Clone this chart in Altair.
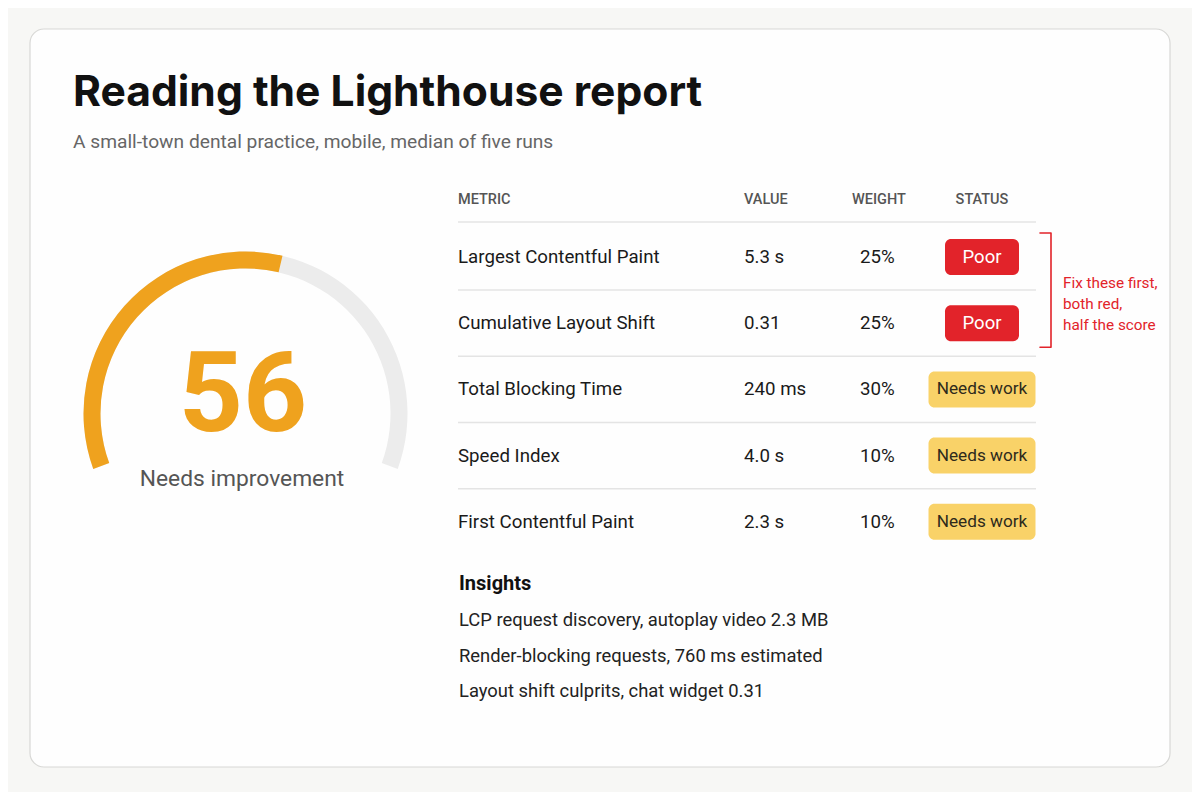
import altair as alt
import pandas as pd

# ---------------- data ----------------
title = "Reading the Lighthouse report"
subtitle = "A small-town dental practice, mobile, median of five runs"
score = 56
score_label = "Needs improvement"
headers = ["METRIC", "VALUE", "WEIGHT", "STATUS"]
metrics = ["Largest Contentful Paint", "Cumulative Layout Shift", "Total Blocking Time",
           "Speed Index", "First Contentful Paint"]
values = ["5.3 s", "0.31", "240 ms", "4.0 s", "2.3 s"]
weights = ["25%", "25%", "30%", "10%", "10%"]
statuses = ["Poor", "Poor", "Needs work", "Needs work", "Needs work"]
note_lines = ["Fix these first,", "both red,", "half the score"]
insights_title = "Insights"
insights = ["LCP request discovery, autoplay video 2.3 MB",
            "Render-blocking requests, 760 ms estimated",
            "Layout shift culprits, chat widget 0.31"]

# ---------------- layout / style ----------------
W, H = 1184, 784
FONT = "Roboto"
TITLE_FONT = "Inter"
BG = "#f7f7f5"
ORANGE = "#efa21e"
RED = "#e2232a"
YELLOW = "#f9d268"

status_style = {
    "Poor": {"fill": RED, "ink": "#ffffff", "w": 74, "size": 18.5},
    "Needs work": {"fill": YELLOW, "ink": "#2e2a1c", "w": 107, "size": 17.2},
}

card = dict(x0=30, x1=1170, y0=29, y1=767)
gauge = dict(cx=245.5, cy=413.5, r_out=162, r_in=145)
col_metric, col_value, col_weight, col_status = 458, 744, 860, 982
header_x = [458, 744, 852, 982]
header_align = ["left", "left", "left", "center"]
header_y = 200
row_y0, row_h = 257, 66.2
table_x1 = 1036
badge_h = 36
insight_title_y, insight_y0, insight_step = 584, 620, 35.5

X = lambda f="x": alt.X(f"{f}:Q", scale=alt.Scale(domain=[8, 8 + W]), axis=None)
Y = lambda f="y": alt.Y(f"{f}:Q", scale=alt.Scale(domain=[8, 8 + H], reverse=True), axis=None)

layers = []

# card
card_df = pd.DataFrame([card])
layers.append(
    alt.Chart(card_df).mark_rect(fill="#fefefe", stroke="#d8d8d6", strokeWidth=1.2, cornerRadius=14)
    .encode(x=X("x0"), x2="x1", y=Y("y0"), y2="y1")
)

# gauge arcs
theta_scale = alt.Scale(domain=[0, 100], range=[-1.9199, 1.9199])
arc_bg = pd.DataFrame([{"x": gauge["cx"], "y": gauge["cy"], "t0": 0, "t1": 100}])
arc_fg = pd.DataFrame([{"x": gauge["cx"], "y": gauge["cy"], "t0": 0, "t1": score}])
for df, col in [(arc_bg, "#ececec"), (arc_fg, ORANGE)]:
    layers.append(
        alt.Chart(df).mark_arc(radius=gauge["r_out"], radius2=gauge["r_in"], color=col)
        .encode(x=X(), y=Y(),
                theta=alt.Theta("t0:Q", scale=theta_scale, stack=None),
                theta2="t1:Q")
    )

score_df = pd.DataFrame([{"x": 243, "y": 397, "text": str(score)}])
layers.append(
    alt.Chart(score_df).mark_text(font=FONT, fontSize=112, fontWeight="bold", color=ORANGE,
                                  align="center", baseline="middle")
    .encode(x=X(), y=Y(), text="text:N")
)
label_df = pd.DataFrame([{"x": 242, "y": 479, "text": score_label}])
layers.append(
    alt.Chart(label_df).mark_text(font=FONT, fontSize=22.8, color="#555555",
                                  align="center", baseline="middle")
    .encode(x=X(), y=Y(), text="text:N")
)

# title / subtitle
layers.append(
    alt.Chart(pd.DataFrame([{"x": 73, "y": 106, "text": title}]))
    .mark_text(font=TITLE_FONT, fontSize=42.6, fontWeight="bold", color="#111111",
               align="left", baseline="alphabetic")
    .encode(x=X(), y=Y(), text="text:N")
)
layers.append(
    alt.Chart(pd.DataFrame([{"x": 73, "y": 148, "text": subtitle}]))
    .mark_text(font=FONT, fontSize=19.2, color="#666666", align="left", baseline="alphabetic")
    .encode(x=X(), y=Y(), text="text:N")
)

# table headers
hdr_df = pd.DataFrame({"x": header_x, "y": header_y, "text": headers, "align": header_align})
for al in ["left", "center"]:
    layers.append(
        alt.Chart(hdr_df[hdr_df["align"] == al]).mark_text(
            font=FONT, fontSize=14.5, fontWeight=500, color="#555555", align=al, baseline="middle")
        .encode(x=X(), y=Y(), text="text:N")
    )

# separator lines
line_rows = [{"x": col_metric, "x2": table_x1, "y": header_y + 22}]
for i in range(1, len(metrics)):
    line_rows.append({"x": col_metric, "x2": table_x1, "y": row_y0 + i * row_h - row_h / 2})
layers.append(
    alt.Chart(pd.DataFrame(line_rows)).mark_rule(color="#e4e4e4", strokeWidth=1.5)
    .encode(x=X(), x2="x2:Q", y=Y())
)

# rows
rows = pd.DataFrame({"metric": metrics, "value": values, "weight": weights, "status": statuses})
rows["y"] = [row_y0 + i * row_h for i in range(len(rows))]
rows["xm"] = col_metric
rows["xv"] = col_value
rows["xw"] = col_weight
rows["xs"] = col_status
rows["bx0"] = [col_status - status_style[s]["w"] / 2 for s in statuses]
rows["bx1"] = [col_status + status_style[s]["w"] / 2 for s in statuses]
rows["by0"] = rows["y"] - badge_h / 2
rows["by1"] = rows["y"] + badge_h / 2
rows["fill"] = [status_style[s]["fill"] for s in statuses]
rows["ink"] = [status_style[s]["ink"] for s in statuses]
rows["tsize"] = [status_style[s]["size"] for s in statuses]

for fld, xf in [("metric", "xm"), ("value", "xv"), ("weight", "xw")]:
    layers.append(
        alt.Chart(rows).mark_text(font=FONT, fontSize=18.7, color="#1a1a1a", align="left", baseline="middle")
        .encode(x=X(xf), y=Y(), text=f"{fld}:N")
    )

layers.append(
    alt.Chart(rows).mark_rect(cornerRadius=6)
    .encode(x=X("bx0"), x2="bx1:Q", y=Y("by0"), y2="by1:Q",
            color=alt.Color("fill:N", scale=None))
)
layers.append(
    alt.Chart(rows).mark_text(font=FONT, align="center", baseline="middle")
    .encode(x=X("xs"), y=Y(), text="status:N", color=alt.Color("ink:N", scale=None),
            size=alt.Size("tsize:Q", scale=None))
)

# bracket annotation for the two "Poor" rows
poor_idx = [i for i, s in enumerate(statuses) if s == "Poor"]
b_top = row_y0 + min(poor_idx) * row_h - 24
b_bot = row_y0 + max(poor_idx) * row_h + 24
b_x = 1051
bracket = pd.DataFrame([
    {"o": 0, "x": b_x - 11, "y": b_top},
    {"o": 1, "x": b_x, "y": b_top},
    {"o": 2, "x": b_x, "y": b_bot},
    {"o": 3, "x": b_x - 11, "y": b_bot},
])
layers.append(
    alt.Chart(bracket).mark_line(color=RED, strokeWidth=1.6, strokeJoin="round", strokeCap="round")
    .encode(x=X(), y=Y(), order="o:Q")
)
mid = (b_top + b_bot) / 2
note_df = pd.DataFrame({"text": note_lines,
                        "x": 1063,
                        "y": [mid - 7 + i * 20.7 for i in range(len(note_lines))]})
layers.append(
    alt.Chart(note_df).mark_text(font=FONT, fontSize=15.3, color=RED, align="left", baseline="middle")
    .encode(x=X(), y=Y(), text="text:N")
)

# insights
layers.append(
    alt.Chart(pd.DataFrame([{"x": 459, "y": insight_title_y, "text": insights_title}]))
    .mark_text(font=FONT, fontSize=20, fontWeight="bold", color="#111111", align="left", baseline="middle")
    .encode(x=X(), y=Y(), text="text:N")
)
ins_df = pd.DataFrame({"text": insights, "x": 459,
                       "y": [insight_y0 + i * insight_step for i in range(len(insights))]})
layers.append(
    alt.Chart(ins_df).mark_text(font=FONT, fontSize=18.4, color="#222222", align="left", baseline="middle")
    .encode(x=X(), y=Y(), text="text:N")
)

chart = (
    alt.layer(*layers)
    .properties(width=W, height=H, background=BG, padding=0,
                autosize=alt.AutoSizeParams(type="none"))
    .configure_view(stroke=None)
)

chart.save("out.html", embed_options={"renderer": "svg", "actions": False})
